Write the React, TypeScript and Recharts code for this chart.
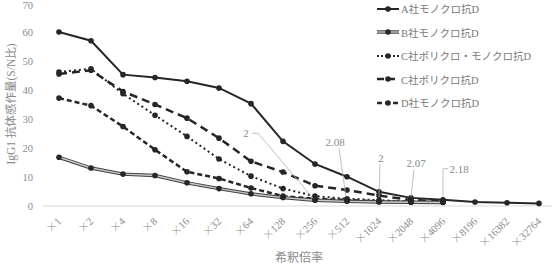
import React from 'react';
import { LineChart, Line, XAxis, YAxis, Label } from 'recharts';

const categories = ['×1', '×2', '×4', '×8', '×16', '×32', '×64', '×128', '×256', '×512', '×1024', '×2048', '×4096', '×8196', '×16382', '×32764'];
const seriesA = [60, 57, 45.3, 44.3, 43, 40.7, 35.3, 22.3, 14.5, 10.1, 4.9, 2.8, 2.18, 1.4, 1.1, 0.9];
const seriesB = [16.8, 13.1, 11.0, 10.5, 8.0, 6.0, 4.2, 2.9, 2.0, 1.6, 1.4, 1.3, 1.2];
const seriesCpm = [46.2, 47.3, 38.7, 31.3, 24.0, 16.2, 10.3, 6.0, 3.4, 2.5, 2.0, 1.5, 1.4];
const seriesCp = [45.5, 46.8, 39.5, 35.0, 30.3, 23.4, 15.4, 11.7, 7.0, 5.5, 3.6, 2.07, 1.6];
const seriesD = [37.2, 34.6, 27.4, 19.4, 11.8, 9.5, 6.2, 3.4, 2.5, 2.08, 1.6, 1.4, 1.3];
const yTicks = [0, 10, 20, 30, 40, 50, 60, 70];

const names = {
  A: 'A社モノクロ抗D',
  B: 'B社モノクロ抗D',
  Cpm: 'C社ポリクロ・モノクロ抗D',
  Cp: 'C社ポリクロ抗D',
  D: 'D社モノクロ抗D',
};

// callout labels: text offset + leader path relative to the point
const annotations = [
  { key: 'B', index: 8, text: '2', tx: -69, ty: -67, path: [[-63, -67], [-57, -67], [-2, -2]] },
  { key: 'D', index: 9, text: '2.08', tx: -12, ty: -58, path: [[-8, -52], [-1, -3]] },
  { key: 'Cpm', index: 10, text: '2', tx: 2, ty: -42, path: [[1, -36], [0, -3]] },
  { key: 'Cp', index: 11, text: '2.07', tx: 5, ty: -37, path: [[3, -30], [0, -3]] },
  { key: 'A', index: 12, text: '2.18', tx: 16, ty: -31, path: [[5, -31], [0, -31], [0, -3]] },
];

const data = categories.map((c, i) => ({
  name: c,
  A: seriesA[i],
  B: seriesB[i],
  Cpm: seriesCpm[i],
  Cp: seriesCp[i],
  D: seriesD[i],
}));

const FONT = '"Liberation Serif", "Noto Sans CJK JP", serif';
const CJK = '"Noto Sans CJK JP", serif';
const TXT = '#8a8a8a';

const dot = { r: 2.8, fill: '#262626', stroke: 'none' };

const renderAnn = (key: string) => (p: any) => {
  const a = annotations.find(x => x.key === key && x.index === p.index);
  if (!a || p.x == null || p.y == null) return null;
  const d = a.path.map((pt, i) => `${i ? 'L' : 'M'}${p.x + pt[0]},${p.y + pt[1]}`).join(' ');
  return (
    <g key={`ann-${key}`}>
      <path d={d} fill="none" stroke="#b0b0b0" strokeWidth={0.8} />
      <text x={p.x + a.tx} y={p.y + a.ty} textAnchor="middle" dominantBaseline="central" fontSize={11} fill={TXT} fontFamily={FONT}>
        {a.text}
      </text>
    </g>
  );
};

// full-width × like the original Mincho rendering
const XTick = ({ x, y, payload }: any) => {
  const v: string = payload.value;
  return (
    <text x={x + 3} y={y + 8} transform={`rotate(-45 ${x + 3} ${y + 8})`} textAnchor="end" fontSize={10.5} fill={TXT} fontFamily={FONT}>
      <tspan fontFamily={CJK} fontWeight={300}>{v.slice(0, 1)}</tspan>
      <tspan>{v.slice(1)}</tspan>
    </text>
  );
};

const legendItems = [
  { key: 'A', dash: undefined, color: '#262626', w: 2 },
  { key: 'B', dash: undefined, color: '#c8c8c8', w: 1.4, outline: true },
  { key: 'Cpm', dash: '2 2', color: '#262626', w: 2 },
  { key: 'Cp', dash: '7 4', color: '#262626', w: 2.5 },
  { key: 'D', dash: '5 3', color: '#262626', w: 2.5 },
];

const LegendBox = () => (
  <div style={{ position: 'absolute', left: 377, top: -3, fontFamily: FONT, fontSize: 10.5, color: '#7a7a7a' }}>
    {legendItems.map(it => (
      <div key={it.key} style={{ display: 'flex', alignItems: 'center', height: 23.5 }}>
        <svg width={22} height={8} style={{ marginRight: 2 }}>
          {it.outline && <line x1={0} y1={4} x2={22} y2={4} stroke="#404040" strokeWidth={3.4} />}
          <line x1={0} y1={4} x2={22} y2={4} stroke={it.color} strokeWidth={it.w} strokeDasharray={it.dash} />
          <circle cx={11} cy={4} r={2.8} fill="#262626" />
        </svg>
        <span>{(names as any)[it.key]}</span>
      </div>
    ))}
  </div>
);

export default function App() {
  return (
    <div style={{ position: 'absolute', left: 0, top: 0, width: 552, height: 267, overflow: 'hidden', background: '#fff' }}>
      <LineChart width={555} height={267} data={data} margin={{ top: 3, right: 0, left: 0, bottom: 0 }}>
        <XAxis
          dataKey="name"
          height={61}
          tick={<XTick />}
          tickLine={false}
          axisLine={{ stroke: '#d9d9d9' }}
          interval={0}
          padding={{ left: 16, right: 16 }}
        >
          <Label
            content={() => (
              <text x={299} y={262} textAnchor="middle" fontSize={12} fill={TXT} fontFamily={FONT}>
                希釈倍率
              </text>
            )}
          />
        </XAxis>
        <YAxis
          width={43}
          domain={[0, 70]}
          ticks={yTicks}
          tickLine={false}
          axisLine={false}
          tickMargin={4}
          tick={{ fontSize: 10.5, fill: TXT, fontFamily: FONT }}
        >
          <Label
            content={() => (
              <text x={15} y={104} transform="rotate(-90 15 104)" textAnchor="middle" fontSize={11.5} fill={TXT} fontFamily={FONT}>
                IgG1 抗体感作量(S/N比)
              </text>
            )}
          />
        </YAxis>
        <Line dataKey="D" stroke="#262626" strokeWidth={2.5} strokeDasharray="5 3" dot={dot} activeDot={false} isAnimationActive={false} label={renderAnn('D')} />
        <Line dataKey="Cp" stroke="#262626" strokeWidth={2.5} strokeDasharray="8 5" dot={dot} activeDot={false} isAnimationActive={false} label={renderAnn('Cp')} />
        <Line dataKey="Cpm" stroke="#262626" strokeWidth={2} strokeDasharray="2 3" dot={dot} activeDot={false} isAnimationActive={false} label={renderAnn('Cpm')} />
        <Line dataKey="B" stroke="#404040" strokeWidth={3.4} dot={false} activeDot={false} legendType="none" isAnimationActive={false} />
        <Line dataKey="B" stroke="#c8c8c8" strokeWidth={1.4} dot={dot} activeDot={false} isAnimationActive={false} label={renderAnn('B')} />
        <Line dataKey="A" stroke="#262626" strokeWidth={2} dot={dot} activeDot={false} isAnimationActive={false} label={renderAnn('A')} />
      </LineChart>
      <LegendBox />
    </div>
  );
}
